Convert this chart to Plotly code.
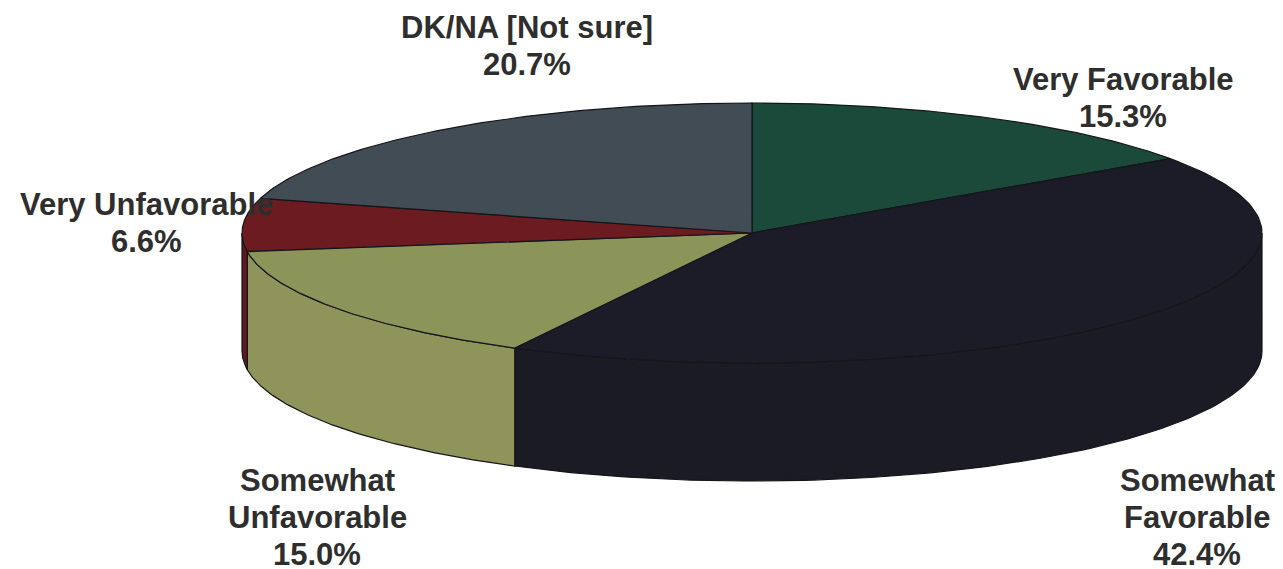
import numpy as np
import plotly.graph_objects as go

categories = ["Very Favorable", "Somewhat Favorable", "Somewhat Unfavorable", "Very Unfavorable", "DK/NA [Not sure]"]
values = [15.3, 42.4, 15.0, 6.6, 20.7]
top_colors = ["#1b4a3a", "#1c1c28", "#8b9559", "#6c1c20", "#424c55"]
side_colors = ["#1b4a3a", "#1b1b26", "#8f945a", "#5e1a20", "#424c55"]
label_lines = [["Very Favorable", "15.3%"], ["Somewhat", "Favorable", "42.4%"],
               ["Somewhat", "Unfavorable", "15.0%"], ["Very Unfavorable", "6.6%"],
               ["DK/NA [Not sure]", "20.7%"]]
label_x = [1123, 1197, 317, 146, 527]
label_y = [79, 480, 480, 204, 27]

CX, CY, RX, RY, DEPTH = 752, 233, 510, 130, 118
LINE_STEP = 37
TEXT = "#2e2e2e"
EDGE = "#15151a"


def rim(a0, a1, n=120, dy=0):
    t = np.radians(np.linspace(a0, a1, n))
    return CX + RX * np.sin(t), CY - RY * np.cos(t) + dy


fig = go.Figure()
edges = np.cumsum([0] + values) * 3.6

# front wall: only the part of each slice facing the viewer
for i, name in enumerate(categories):
    a0, a1 = max(edges[i], 90), min(edges[i + 1], 270)
    if a1 <= a0:
        continue
    x0, y0 = rim(a0, a1)
    x1, y1 = rim(a1, a0, dy=DEPTH)
    fig.add_trace(go.Scatter(
        x=np.r_[x0, x1, x0[0]], y=np.r_[y0, y1, y0[0]],
        mode="lines", fill="toself", fillcolor=side_colors[i],
        line=dict(color=EDGE, width=1.2), name=name, hoverinfo="name", showlegend=False))

# top face
for i, name in enumerate(categories):
    x, y = rim(edges[i], edges[i + 1])
    fig.add_trace(go.Scatter(
        x=np.r_[CX, x, CX], y=np.r_[CY, y, CY],
        mode="lines", fill="toself", fillcolor=top_colors[i],
        line=dict(color=EDGE, width=1.2), name=name,
        text=f"{name}: {values[i]}%", hoverinfo="text", showlegend=False))

for lines, lx, ly in zip(label_lines, label_x, label_y):
    for k, txt in enumerate(lines):
        fig.add_annotation(x=lx, y=ly + k * LINE_STEP, xref="x", yref="y", text=f"<b>{txt}</b>",
                           showarrow=False, align="center",
                           font=dict(family="Liberation Sans", size=31, color=TEXT))

fig.update_xaxes(range=[0, 1283], visible=False, fixedrange=True)
fig.update_yaxes(range=[569, 0], visible=False, fixedrange=True)
fig.update_layout(width=1283, height=569, margin=dict(l=0, r=0, t=0, b=0),
                  paper_bgcolor="white", plot_bgcolor="white")
fig.write_html("out.html", config={"displayModeBar": False},
               post_script="document.body.style.margin='0';document.documentElement.style.overflow='hidden';")
